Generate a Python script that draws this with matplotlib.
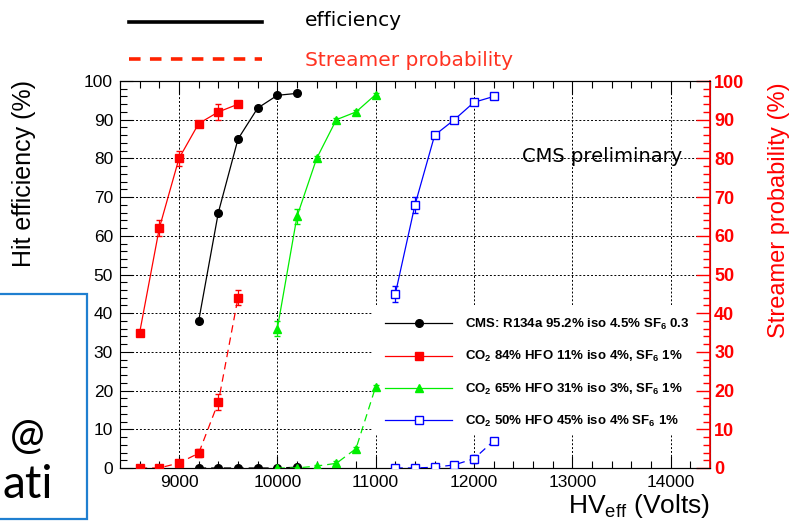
import matplotlib
matplotlib.use("Agg")
import matplotlib.pyplot as plt
from matplotlib.lines import Line2D
from matplotlib.patches import Rectangle
from matplotlib.ticker import MultipleLocator

plt.rcParams['font.family'] = ['Liberation Sans', 'DejaVu Sans']
plt.rcParams['mathtext.fontset'] = 'custom'
plt.rcParams['mathtext.rm'] = 'Liberation Sans'
plt.rcParams['mathtext.bf'] = 'Liberation Sans:bold'

# CMS standard mixture
hv_cms = [9200, 9400, 9600, 9800, 10000, 10200]
eff_cms = [38, 66, 85, 93, 96.3, 96.8]
eff_cms_err = [0.5, 0.5, 0.5, 0.5, 0.5, 0.5]
str_cms = [0, 0, 0, 0, 0, 0.2]
str_cms_err = [0.2, 0.2, 0.2, 0.2, 0.2, 0.2]

# CO2 84% HFO 11%
hv_hfo11 = [8600, 8800, 9000, 9200, 9400, 9600]
eff_hfo11 = [35, 62, 80, 89, 92, 94]
eff_hfo11_err = [0.5, 2, 2, 0.5, 2, 0.5]
str_hfo11 = [0, 0, 1.3, 3.8, 17, 44]
str_hfo11_err = [0.2, 0.2, 0.5, 1, 2, 2]

# CO2 65% HFO 31%
hv_hfo31 = [10000, 10200, 10400, 10600, 10800, 11000]
eff_hfo31 = [36, 65, 80, 90, 92, 96.5]
eff_hfo31_err = [2, 2, 0.5, 0.5, 0.5, 0.5]
str_hfo31 = [0, 0, 0.5, 1.2, 5, 21]
str_hfo31_err = [0.2, 0.2, 0.3, 0.5, 0.5, 0.5]

# CO2 50% HFO 45%
hv_hfo45 = [11200, 11400, 11600, 11800, 12000, 12200]
eff_hfo45 = [45, 68, 86, 90, 94.5, 96]
eff_hfo45_err = [2, 2, 0.5, 0.5, 0.5, 0.5]
str_hfo45 = [0, 0, 0.2, 0.8, 2.4, 7]
str_hfo45_err = [0.2, 0.2, 0.3, 0.5, 1, 0.5]

labels = [
    r"CMS: R134a 95.2% iso 4.5% SF$_\mathbf{6}$ 0.3",
    r"CO$_\mathbf{2}$ 84% HFO 11% iso 4%, SF$_\mathbf{6}$ 1%",
    r"CO$_\mathbf{2}$ 65% HFO 31% iso 3%, SF$_\mathbf{6}$ 1%",
    r"CO$_\mathbf{2}$ 50% HFO 45% iso 4% SF$_\mathbf{6}$ 1%",
]

series = [
    (hv_cms, eff_cms, eff_cms_err, str_cms, str_cms_err, 'black', 'o', 'black', 5.5),
    (hv_hfo11, eff_hfo11, eff_hfo11_err, str_hfo11, str_hfo11_err, '#ff0000', 's', '#ff0000', 5.8),
    (hv_hfo31, eff_hfo31, eff_hfo31_err, str_hfo31, str_hfo31_err, '#00ee00', '^', '#00ee00', 5.5),
    (hv_hfo45, eff_hfo45, eff_hfo45_err, str_hfo45, str_hfo45_err, '#0000ff', 's', 'white', 6.0),
]

fig = plt.figure(figsize=(7.9, 5.23), dpi=100)
ax = fig.add_axes([120 / 790, 1 - 468 / 523, 590 / 790, 387 / 523])
ax2 = ax.twinx()

ax.set_xlim(8400, 14400)
ax.set_ylim(0, 100)
ax2.set_ylim(0, 100)

ax.set_axisbelow(True)
ax.grid(True, which='major', color='black', linestyle=(0, (2, 2)), linewidth=0.7)

# white area behind the legend hides the grid
ax.add_patch(Rectangle((0.427, 0.088), 0.573, 0.333, transform=ax.transAxes,
                       facecolor='white', edgecolor='none', zorder=1))

handles = []
for hv, eff, eff_err, strm, strm_err, col, mk, mfc, ms in series:
    ax.errorbar(hv, eff, yerr=eff_err, color=col, marker=mk, ms=ms, mfc=mfc,
                mec=col, mew=1, lw=0.9, elinewidth=0.9, capsize=2.5, zorder=3)
    ax2.errorbar(hv, strm, yerr=strm_err, color=col, marker=mk, ms=ms, mfc=mfc,
                 mec=col, mew=1, lw=0.9, elinewidth=0.9, capsize=2.5,
                 linestyle=(0, (6, 4)), zorder=3)
    handles.append(Line2D([], [], color=col, marker=mk, ms=ms, mfc=mfc, mec=col, lw=0.9))

leg = ax2.legend(handles, labels, loc='upper left', bbox_to_anchor=(0.449, 0.39),
                 frameon=False, borderaxespad=0, borderpad=0, handlelength=5.1,
                 handletextpad=1.0, labelspacing=1.3,
                 prop={'weight': 'bold', 'size': 9.5})

ax.xaxis.set_major_locator(MultipleLocator(1000))
ax.xaxis.set_minor_locator(MultipleLocator(200))
ax.yaxis.set_major_locator(MultipleLocator(10))
ax.yaxis.set_minor_locator(MultipleLocator(2))
ax2.yaxis.set_major_locator(MultipleLocator(10))
ax2.yaxis.set_minor_locator(MultipleLocator(2))

ax.tick_params(axis='both', which='both', direction='in', top=True, right=False,
               labelsize=12.5, pad=5)
ax.tick_params(which='major', length=9, width=0.8)
ax.tick_params(which='minor', length=5, width=0.8)
ax2.tick_params(axis='y', which='both', direction='in', colors='red',
                labelcolor='red', labelsize=13, pad=3)
ax2.tick_params(which='major', length=10, width=1)
ax2.tick_params(which='minor', length=5, width=1)
for t in ax2.get_yticklabels():
    t.set_fontweight('bold')

for s in ['left', 'bottom', 'top']:
    ax.spines[s].set_linewidth(0.8)
ax2.spines['right'].set_color('red')
ax2.spines['right'].set_linewidth(1.2)
ax2.spines['left'].set_visible(False)

fig.text(24 / 790, 1 - 80 / 523, "Hit efficiency (%)", rotation=90,
         ha='center', va='top', fontsize=18)
fig.text(779 / 790, 1 - 82 / 523, "Streamer probability (%)", rotation=90,
         ha='center', va='top', fontsize=17, color='red')
fig.text(710 / 790, 1 - 513 / 523, r"HV$_{\rm eff}$ (Volts)", ha='right',
         va='baseline', fontsize=19)

fig.text(522 / 790, 1 - 157 / 523, "CMS preliminary", ha='left', va='center',
         fontsize=14, family='DejaVu Sans')

# slide legend above the plot
fig.add_artist(Line2D([129 / 790, 262 / 790], [1 - 22 / 523] * 2,
                      transform=fig.transFigure, color='black', lw=2.6))
fig.add_artist(Line2D([129 / 790, 262 / 790], [1 - 59 / 523] * 2,
                      transform=fig.transFigure, color='#ff2200', lw=2.6,
                      linestyle=(0, (3.2, 2.6))))
fig.text(305 / 790, 1 - 21 / 523, "efficiency", ha='left', va='center',
         fontsize=14.5, family='DejaVu Sans')
fig.text(305 / 790, 1 - 60 / 523, "Streamer probability", ha='left', va='center',
         fontsize=14.5, family='DejaVu Sans', color='#ff3322')

# slide box on the left
fig.add_artist(Rectangle((-0.01, 1 - 519 / 523), 0.01 + 87 / 790, 225 / 523,
                         transform=fig.transFigure, fill=False,
                         edgecolor='#1f7fd0', lw=1.6))
fig.text(27 / 790, 1 - 437 / 523, "@", ha='center', va='center', fontsize=30,
         family='Lato')
fig.text(53 / 790, 1 - 485 / 523, "ati", ha='right', va='center', fontsize=33,
         family='Lato')

fig.savefig("out.png", dpi=100)
